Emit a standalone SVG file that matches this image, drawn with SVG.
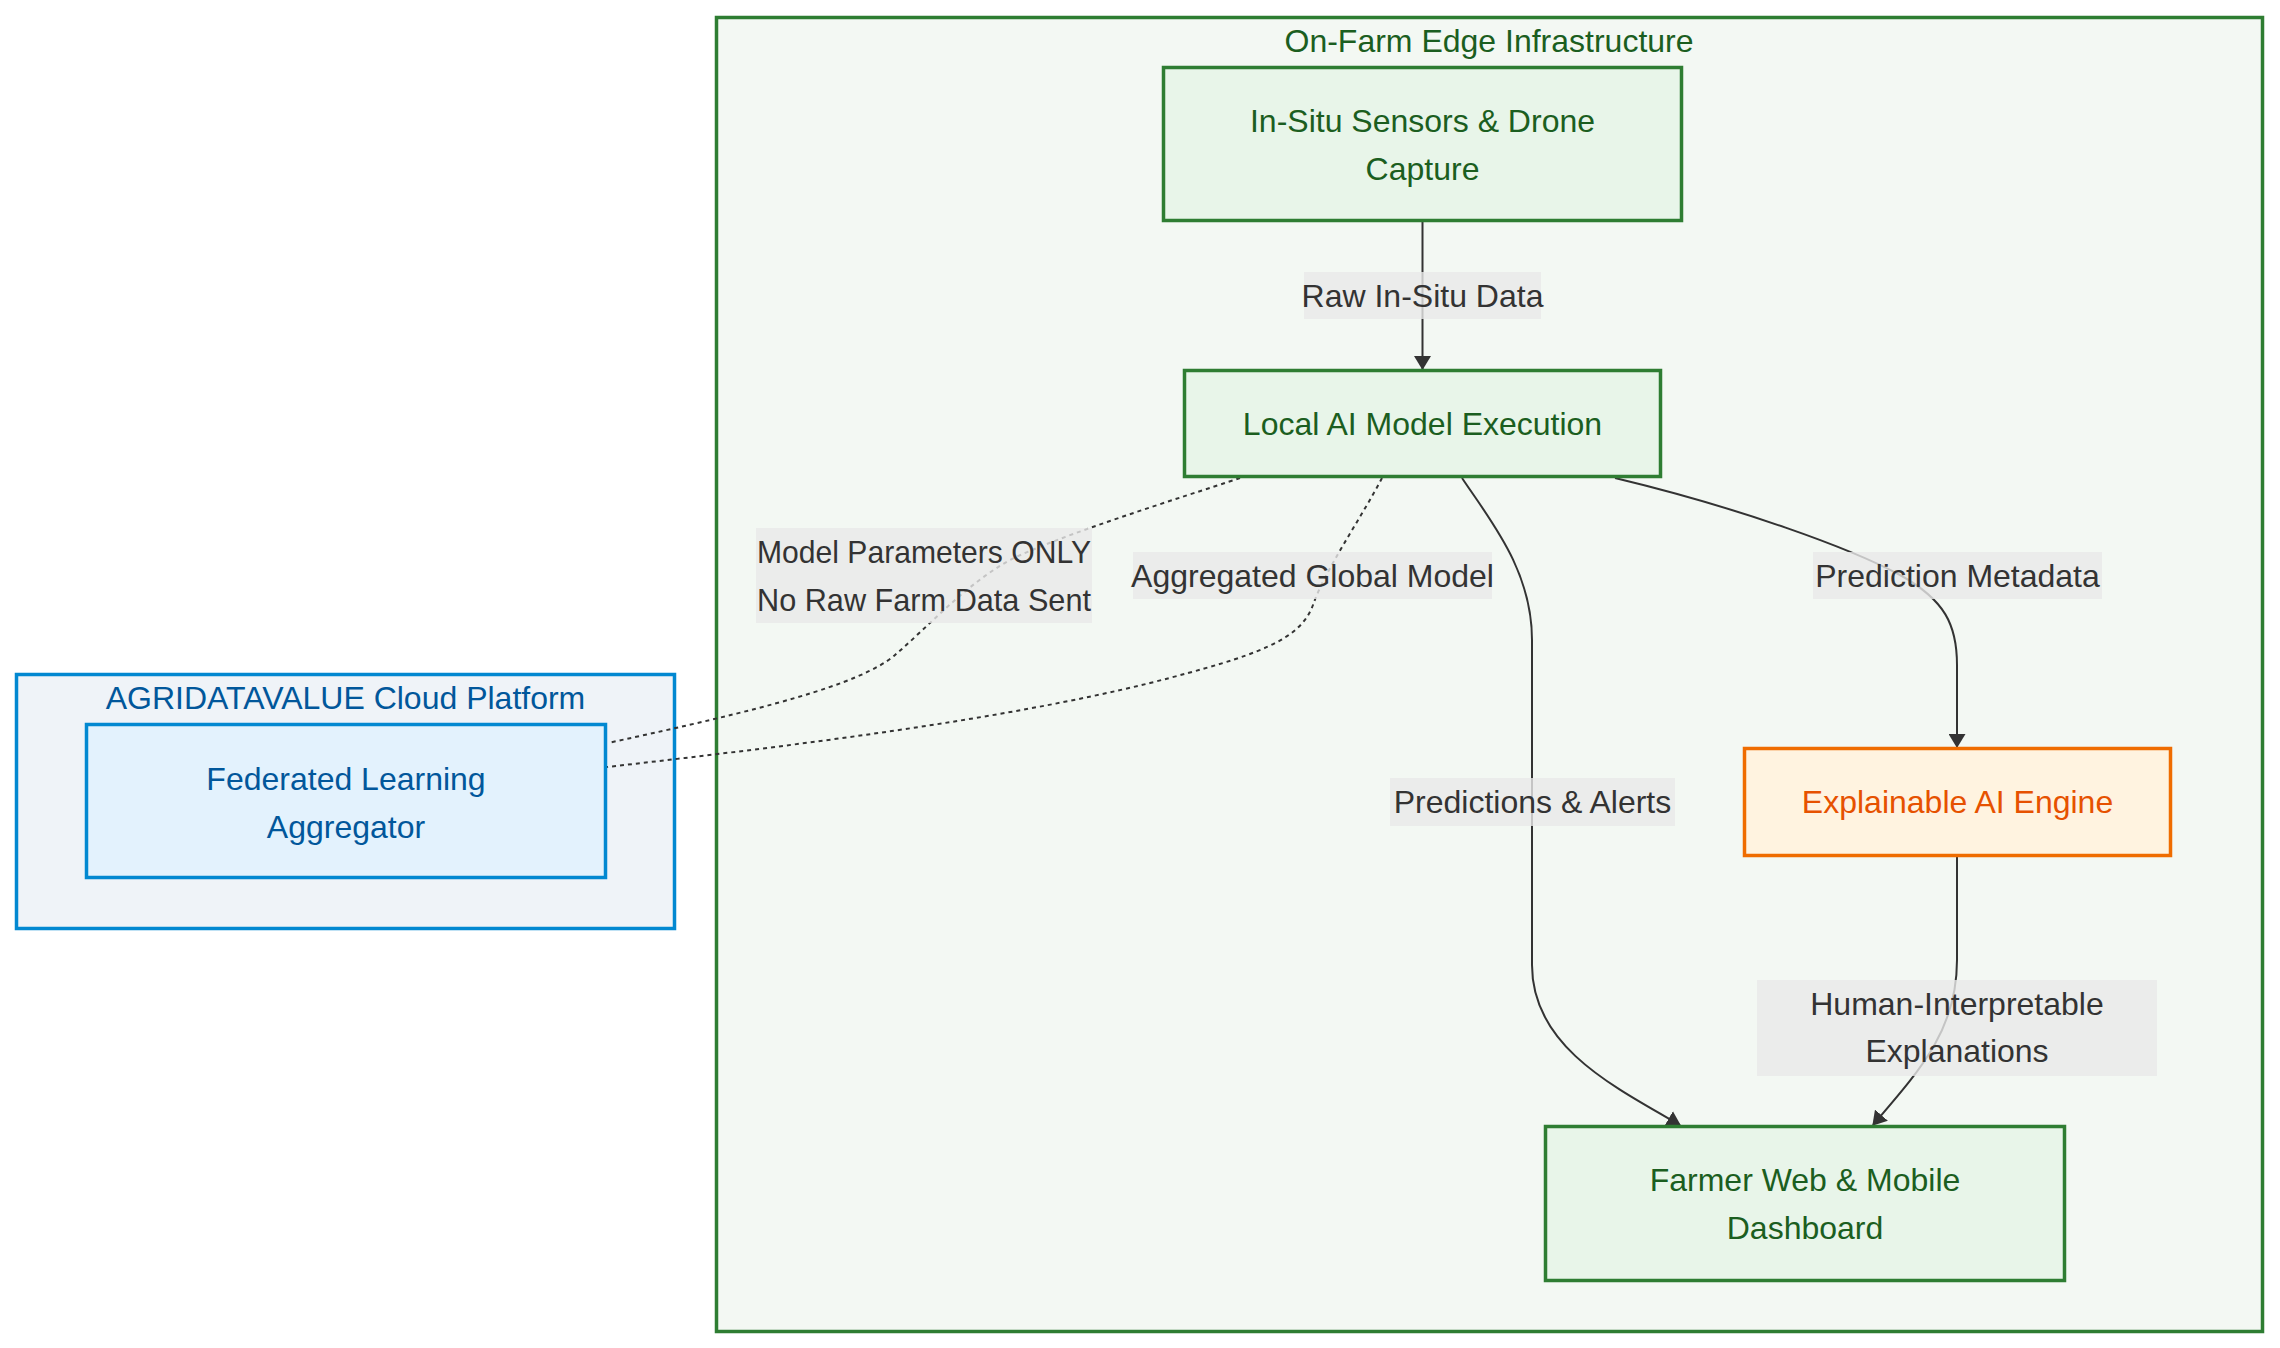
<svg xmlns="http://www.w3.org/2000/svg" width="2280" height="1348" viewBox="0 0 2280 1348">
<style>
text{font-family:"Liberation Sans",Arial,sans-serif;font-size:32px;text-anchor:middle}
.green rect{fill:#e8f5e9;stroke:#2e7d32;stroke-width:3.5}
.green text{fill:#1b5e20}
.blue rect{fill:#e3f2fd;stroke:#0288d1;stroke-width:3.5}
.blue text{fill:#01579b}
.orange rect{fill:#fff3e0;stroke:#ef6c00;stroke-width:3.5}
.orange text{fill:#e65100}
.edge{fill:none;stroke:#333;stroke-width:2}
.dot{stroke-dasharray:4 4}
.lbl rect{fill:#e8e8e8;fill-opacity:0.8}
.lbl text{fill:#333}
</style>
<defs>
<marker id="arr" viewBox="0 0 14 17" markerWidth="14" markerHeight="17" refX="13" refY="8.5" orient="auto" markerUnits="userSpaceOnUse">
<path d="M0,0 L14,8.5 L0,17 z" fill="#333"/>
</marker>
</defs>
<rect width="2280" height="1348" fill="#ffffff"/>
<g id="cluster-edge">
<rect x="716.5" y="17.5" width="1546" height="1314" fill="#f3f8f3" stroke="#2e7d32" stroke-width="3.5"/>
<text x="1489" y="52" fill="#1b5e20">On-Farm Edge Infrastructure</text>
</g>
<g id="cluster-cloud">
<rect x="16.5" y="674.5" width="658" height="254" fill="#eff3f8" stroke="#0288d1" stroke-width="3.5"/>
<text x="345.5" y="709" fill="#01579b">AGRIDATAVALUE Cloud Platform</text>
</g>
<g id="connectors">
<path class="edge" d="M1422.5,222 L1422.5,369" marker-end="url(#arr)"/>
<path class="edge dot" d="M1240,478 C1180,498 1060,535 1010,560 C965,585 930,625 895,655 C860,685 760,710 608,743"/>
<path class="edge dot" d="M1382,478 C1360,520 1325,570 1313,605 C1300,640 1260,655 1150,683 C1000,720 800,745 607,767"/>
<path class="edge" d="M1462,478 C1490,520 1532,570 1532,640 L1532,965 C1532,1045 1610,1085 1680,1125" marker-end="url(#arr)"/>
<path class="edge" d="M1615,478 C1740,508 1850,548 1900,575 C1945,600 1957,625 1957,665 L1957,747" marker-end="url(#arr)"/>
<path class="edge" d="M1957,857 L1957,960 C1957,1030 1920,1070 1873,1125" marker-end="url(#arr)"/>
</g>
<g id="edge-labels">
<g class="lbl" id="label-raw"><rect x="1304" y="272" width="237" height="47"/><text x="1422.5" y="307">Raw In-Situ Data</text></g>
<g class="lbl" id="label-params"><rect x="756" y="528" width="336" height="95"/><text x="924" y="563" textLength="334" lengthAdjust="spacingAndGlyphs">Model Parameters ONLY</text><text x="924" y="611" textLength="334" lengthAdjust="spacingAndGlyphs">No Raw Farm Data Sent</text></g>
<g class="lbl" id="label-global"><rect x="1133" y="552" width="359" height="47"/><text x="1312.5" y="587">Aggregated Global Model</text></g>
<g class="lbl" id="label-meta"><rect x="1813" y="552" width="289" height="47"/><text x="1957.5" y="587">Prediction Metadata</text></g>
<g class="lbl" id="label-pred"><rect x="1390" y="778" width="285" height="48"/><text x="1532.5" y="813">Predictions &amp; Alerts</text></g>
<g class="lbl" id="label-human"><rect x="1757" y="980" width="400" height="96"/><text x="1957" y="1015">Human-Interpretable</text><text x="1957" y="1062">Explanations</text></g>
</g>
<g id="node-sensors" class="green">
<rect x="1163.5" y="67.5" width="518" height="153"/>
<text x="1422.5" y="132">In-Situ Sensors &amp; Drone</text>
<text x="1422.5" y="180">Capture</text>
</g>
<g id="node-local" class="green">
<rect x="1184.5" y="370.5" width="476" height="106"/>
<text x="1422.5" y="435">Local AI Model Execution</text>
</g>
<g id="node-federated" class="blue">
<rect x="86.5" y="724.5" width="519" height="153"/>
<text x="346" y="790">Federated Learning</text>
<text x="346" y="838">Aggregator</text>
</g>
<g id="node-xai" class="orange">
<rect x="1744.5" y="748.5" width="426" height="107"/>
<text x="1957.5" y="813">Explainable AI Engine</text>
</g>
<g id="node-dashboard" class="green">
<rect x="1545.5" y="1126.5" width="519" height="154"/>
<text x="1805" y="1191">Farmer Web &amp; Mobile</text>
<text x="1805" y="1239">Dashboard</text>
</g>
</svg>
